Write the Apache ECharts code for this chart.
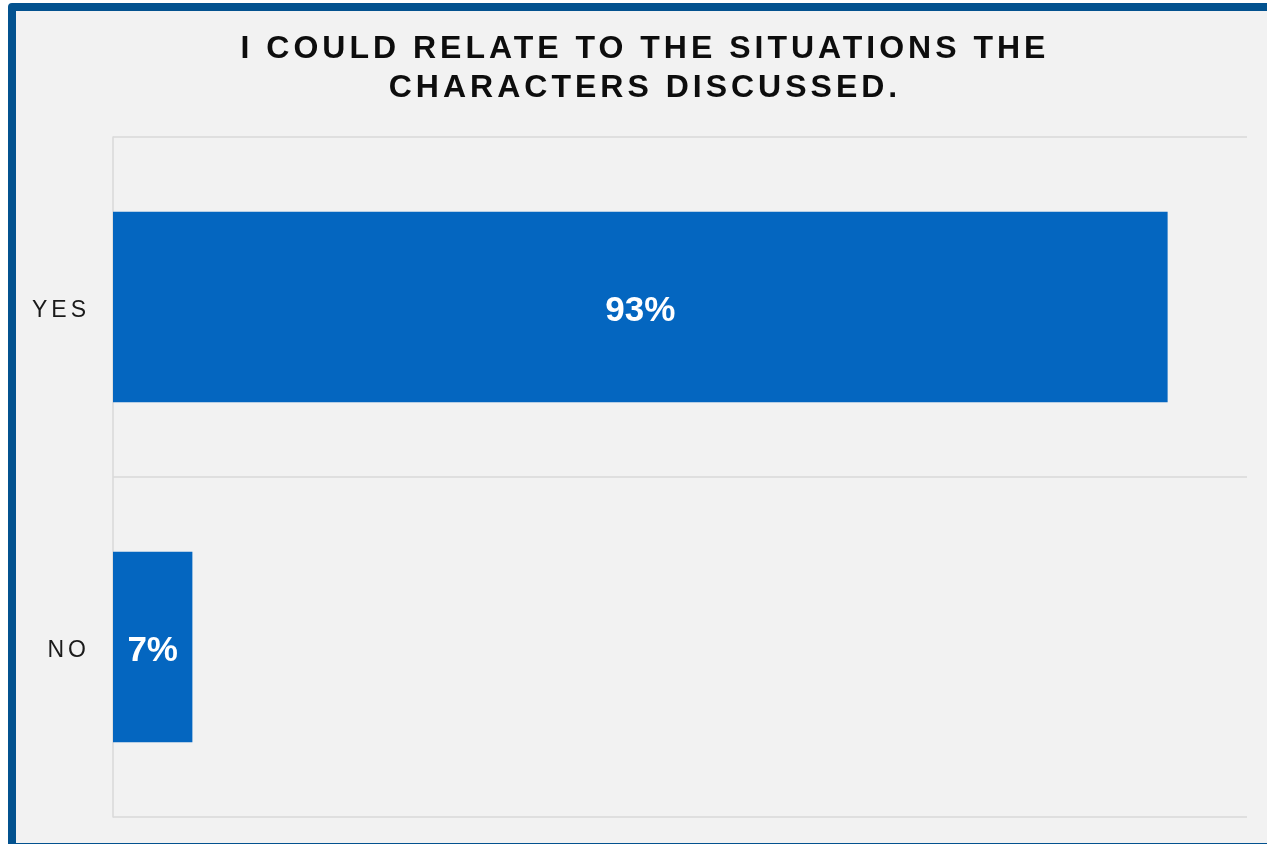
<!DOCTYPE html>
<html>
<head>
<meta charset="utf-8">
<script src="https://cdn.jsdelivr.net/npm/echarts@6/dist/echarts.min.js"></script>
<style>
  html, body { margin: 0; padding: 0; background: #ffffff; overflow: hidden; }
  #frame { position: absolute; left: 8px; top: 3px; width: 1300px; height: 832px;
           border: 8px solid #03528f; border-radius: 4px; background: #f2f2f2; }
  #chart { position: absolute; left: 0; top: 0; width: 1267px; height: 844px; }
</style>
</head>
<body>
<div id="frame"></div>
<div id="chart"></div>
<script>
const titleLines = ['I COULD RELATE TO THE SITUATIONS THE', 'CHARACTERS DISCUSSED.'];
const categories = ['YES', 'NO'];
const values = [93, 7];
const valueSuffix = '%';

// letter spacing by font size (ECharts has no letterSpacing option)
const spacingBySize = { 32: '4px', 23: '4px' };
(function () {
  const P = CanvasRenderingContext2D.prototype;
  if (!('letterSpacing' in P)) return;
  const orig = P.fillText;
  P.fillText = function (t, x, y, w) {
    const m = /(\d+)px/.exec(this.font || '');
    this.letterSpacing = (m && spacingBySize[m[1]]) || '0px';
    if (w === undefined) orig.call(this, t, x, y); else orig.call(this, t, x, y, w);
    this.letterSpacing = '0px';
  };
})();

const chart = echarts.init(document.getElementById('chart'), null, { renderer: 'canvas' });
chart.setOption({
  backgroundColor: 'transparent',
  animation: false,
  title: {
    text: titleLines.join('\n'),
    left: 640,
    top: 25,
    textAlign: 'center',
    textStyle: {
      fontFamily: 'Liberation Sans, Arial, sans-serif',
      fontWeight: 'bold',
      fontSize: 32,
      lineHeight: 39,
      color: '#0d0d0d'
    }
  },
  grid: { left: 113, top: 137, right: 20, bottom: 27, containLabel: false },
  xAxis: {
    type: 'value',
    min: 0,
    max: 100,
    show: false
  },
  yAxis: {
    type: 'category',
    data: categories,
    inverse: true,
    axisLine: { show: true, lineStyle: { color: '#d9d9d9', width: 1.5 } },
    axisTick: { show: false },
    splitLine: { show: true, lineStyle: { color: '#d9d9d9', width: 1.5 } },
    axisLabel: {
      margin: 23,
      formatter: '{a|{value}}',
      rich: {
        a: {
          padding: [8, 0, 0, 0],
          fontFamily: 'Liberation Sans, Arial, sans-serif',
          fontSize: 23,
          color: '#1a1a1a'
        }
      }
    }
  },
  series: [{
    type: 'bar',
    data: values,
    barCategoryGap: '44%',
    itemStyle: { color: '#0466c0' },
    label: {
      show: true,
      position: 'inside',
      offset: [0, 4],
      formatter: p => p.value + valueSuffix,
      fontFamily: 'Liberation Sans, Arial, sans-serif',
      fontWeight: 'bold',
      fontSize: 35,
      color: '#ffffff'
    }
  }]
});
</script>
</body>
</html>
